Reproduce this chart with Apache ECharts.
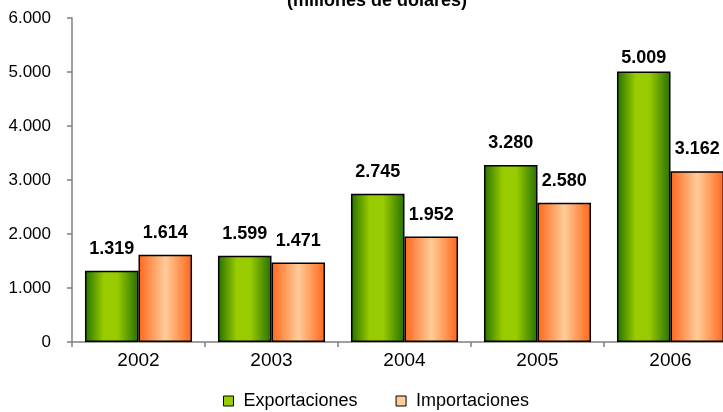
<!DOCTYPE html>
<html>
<head>
<meta charset="utf-8">
<script src="https://cdn.jsdelivr.net/npm/echarts@6/dist/echarts.min.js"></script>
<style>html,body{margin:0;padding:0;background:#fff}#c{width:723px;height:412px}</style>
</head>
<body>
<div id="c"></div>
<script>
var categories = ['2002', '2003', '2004', '2005', '2006'];
var exportaciones = [1319, 1599, 2745, 3280, 5009];
var importaciones = [1614, 1471, 1952, 2580, 3162];
var yTicks = [0, 1000, 2000, 3000, 4000, 5000, 6000];

function fmt(v) {
  return String(v).replace(/\B(?=(\d{3})+(?!\d))/g, '.');
}
var FONT = '"Liberation Sans", Arial, sans-serif';

var greenGrad = new echarts.graphic.LinearGradient(0, 0, 1, 0, [
  {offset: 0, color: '#267000'},
  {offset: 0.35, color: '#99cc00'},
  {offset: 0.6, color: '#99cc00'},
  {offset: 1, color: '#267000'}
]);
var orangeGrad = new echarts.graphic.LinearGradient(0, 0, 1, 0, [
  {offset: 0, color: '#ff6619'},
  {offset: 0.5, color: '#ffcc99'},
  {offset: 1, color: '#ff6619'}
]);

function buildData(arr) {
  var maxV = yTicks[yTicks.length - 1];
  return arr.map(function (v) {
    var item = {value: v};
    if (v / maxV > 0.8) item.label = {distance: 4};
    return item;
  });
}

var labelStyle = {
  show: true,
  position: 'top',
  distance: 13,
  fontFamily: FONT,
  fontWeight: 'bold',
  fontSize: 18,
  color: '#000',
  formatter: function (p) { return fmt(p.value); }
};

var chart = echarts.init(document.getElementById('c'));
chart.setOption({
  animation: false,
  backgroundColor: '#fff',
  title: {
    text: '(millones de dólares)',
    left: 282,
    top: -13,
    textStyle: {fontFamily: FONT, fontWeight: 'bold', fontSize: 18, color: '#000'}
  },
  legend: {
    left: 218,
    top: 387,
    itemWidth: 10,
    itemHeight: 10,
    itemGap: 38,
    icon: 'rect',
    textStyle: {fontFamily: FONT, fontSize: 18, color: '#000', padding: [0, 0, 0, 5]},
    data: [
      {name: 'Exportaciones', itemStyle: {color: '#99cc00', borderColor: '#000', borderWidth: 1}},
      {name: 'Importaciones', itemStyle: {color: '#ffcc99', borderColor: '#000', borderWidth: 1}}
    ]
  },
  grid: {left: 72, top: 18, width: 665, height: 324, containLabel: false, outerBoundsMode: 'none'},
  xAxis: {
    type: 'category',
    data: categories,
    axisLine: {lineStyle: {color: '#808080', width: 1.5}},
    axisTick: {show: true, length: 5, lineStyle: {color: '#808080', width: 1.5}},
    axisLabel: {fontFamily: FONT, fontSize: 19, color: '#000', margin: 9}
  },
  yAxis: {
    type: 'value',
    min: yTicks[0],
    max: yTicks[yTicks.length - 1],
    interval: yTicks[1] - yTicks[0],
    axisLine: {show: true, lineStyle: {color: '#808080', width: 1.5}},
    axisTick: {show: true, length: 5, lineStyle: {color: '#808080', width: 1.5}},
    splitLine: {show: false},
    axisLabel: {fontFamily: FONT, fontSize: 17, color: '#000', margin: 21, formatter: function (v) { return fmt(v); }}
  },
  series: [
    {
      name: 'Exportaciones',
      type: 'bar',
      data: buildData(exportaciones),
      barGap: '0%',
      barCategoryGap: '19.5%',
      itemStyle: {color: greenGrad, borderColor: '#000', borderWidth: 1.5},
      label: labelStyle
    },
    {
      name: 'Importaciones',
      type: 'bar',
      data: buildData(importaciones),
      barGap: '0%',
      barCategoryGap: '19.5%',
      itemStyle: {color: orangeGrad, borderColor: '#000', borderWidth: 1.5},
      label: labelStyle
    }
  ]
});
</script>
</body>
</html>
